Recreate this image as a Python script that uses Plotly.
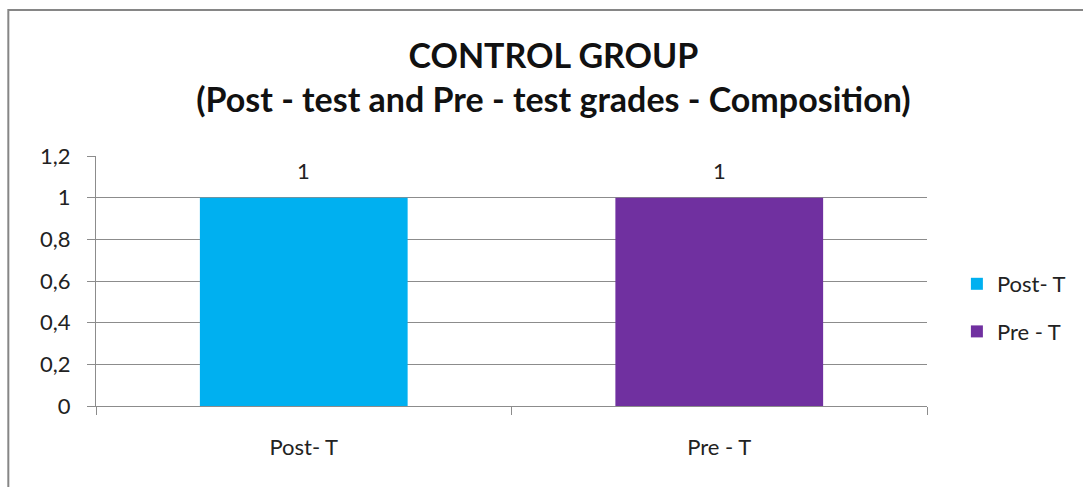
import plotly.graph_objects as go

# Chart data
categories = ["Post- T", "Pre - T"]
values = [1, 1]
colors = ["#00B0F0", "#7030A0"]
y_tick_vals = [0, 0.2, 0.4, 0.6, 0.8, 1, 1.2]
y_tick_text = ["0", "0,2", "0,4", "0,6", "0,8", "1", "1,2"]

FONT = "Lato"
GRID = "#8C8C8C"
TXT = "#222222"

fig = go.Figure()
for cat, val, col in zip(categories, values, colors):
    fig.add_trace(go.Bar(
        x=[cat], y=[val], name=cat, legendgroup=cat,
        marker=dict(color=col, line=dict(width=0)),
    ))
    # value label above each bar
    fig.add_annotation(
        x=cat, y=val, text=f"{val:g}", showarrow=False,
        yanchor="bottom", yshift=12,
        font=dict(family=FONT, size=22, color=TXT),
    )

W, H = 1083, 487
L, R, T, B = 96, 153, 156, 81
pw, ph = W - L - R, H - T - B

def px_x(p):
    return (p - L) / pw

def px_y(p):
    return (H - B - p) / ph

fig.update_layout(
    width=W, height=H,
    margin=dict(l=L, r=R, t=T, b=B),
    paper_bgcolor="white", plot_bgcolor="white",
    barmode="overlay", bargap=0.5,
    title=dict(
        text="<b>CONTROL GROUP</b><br><b>(Post - test and Pre - test grades - Composition)</b>",
        x=0.511, xanchor="center", y=1 - 68 / H, yanchor="middle",
        font=dict(family=FONT, size=34, color="#111111"),
    ),
    font=dict(family=FONT, size=22, color=TXT),
    legend=dict(
        x=px_x(960), y=px_y(308), xanchor="left", yanchor="middle",
        font=dict(family=FONT, size=22, color=TXT),
        itemwidth=30, tracegroupgap=16,
        bgcolor="rgba(0,0,0,0)",
    ),
    xaxis=dict(
        showline=True, linecolor=GRID, linewidth=1,
        ticks="outside", tickson="boundaries", ticklen=8, tickcolor=GRID,
        tickfont=dict(family=FONT, size=22, color=TXT),
        ticklabelstandoff=22,
        showgrid=False,
    ),
    yaxis=dict(
        range=[0, 1.2], tickvals=y_tick_vals, ticktext=y_tick_text,
        showline=True, linecolor=GRID, linewidth=1,
        ticks="outside", ticklen=8, tickcolor=GRID,
        ticklabelstandoff=12,
        showgrid=True, gridcolor=GRID, gridwidth=1,
        zeroline=False,
        tickfont=dict(family=FONT, size=22, color=TXT),
    ),
    showlegend=True,
)

# Outer chart frame (extends past the right/bottom page edges)
fig.add_shape(
    type="rect", xref="paper", yref="paper",
    x0=px_x(8), x1=px_x(1100), y0=px_y(500), y1=px_y(10),
    line=dict(color="#868686", width=2), fillcolor="rgba(0,0,0,0)",
    layer="below",
)

fig.write_html("out.html")
